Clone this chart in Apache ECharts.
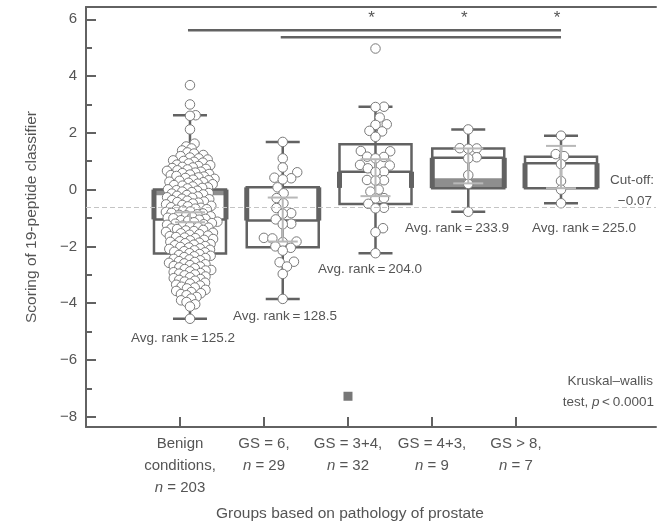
<!DOCTYPE html>
<html>
<head>
<meta charset="utf-8">
<script src="https://cdn.jsdelivr.net/npm/echarts@6/dist/echarts.min.js"></script>
<style>
html, body { margin: 0; padding: 0; background: #fff; }
#chart { width: 657px; height: 526px; }
</style>
</head>
<body>
<div id="chart"></div>
<script>
// groups on the x axis
var groupLabels = [
  'Benign\nconditions,\n{i|n} = 203',
  'GS = 6,\n{i|n} = 29',
  'GS = 3+4,\n{i|n} = 32',
  'GS = 4+3,\n{i|n} = 9',
  'GS > 8,\n{i|n} = 7'
];
var tickPos = [0, 1, 2, 3, 4];
var yTicks = [-8, -6, -4, -2, 0, 2, 4, 6];
var yMinorTicks = [-7, -5, -3, -1, 1, 3, 5];

// individual scores
var benign = [
  3.68, 3.0, 2.62, 2.6, 2.12,
  1.62, 1.52,
  1.45, 1.38, 1.31, 1.27,
  1.22, 1.18, 1.13, 1.1, 1.06, 1.03, 1.01,
  0.98, 0.95, 0.92, 0.88, 0.86, 0.83, 0.8, 0.78, 0.76,
  0.73, 0.71, 0.68, 0.66, 0.63, 0.6, 0.58, 0.55, 0.53, 0.51,
  0.48, 0.46, 0.43, 0.41, 0.38, 0.35, 0.33, 0.31, 0.28, 0.26,
  0.24, 0.21, 0.19, 0.16, 0.14, 0.11, 0.08, 0.06, 0.04, 0.01,
  -0.02, -0.04, -0.07, -0.09, -0.12, -0.14, -0.17, -0.19, -0.22, -0.24,
  -0.27, -0.29, -0.32, -0.34, -0.37, -0.39, -0.42, -0.44, -0.46, -0.49,
  -0.52, -0.54, -0.57, -0.59, -0.62, -0.64, -0.67, -0.69, -0.71, -0.74,
  -0.77, -0.79, -0.82, -0.84, -0.87, -0.89, -0.91, -0.94, -0.96, -0.99,
  -1.01, -1.03, -1.06, -1.08, -1.1, -1.13, -1.15, -1.18, -1.2, -1.22, -1.24,
  -1.27, -1.29, -1.32, -1.34, -1.37, -1.39, -1.42, -1.44, -1.46, -1.49,
  -1.52, -1.54, -1.57, -1.59, -1.62, -1.64, -1.67, -1.69, -1.71, -1.74,
  -1.77, -1.79, -1.82, -1.84, -1.87, -1.89, -1.92, -1.94, -1.96, -1.99,
  -2.02, -2.04, -2.07, -2.09, -2.12, -2.14, -2.17, -2.19, -2.21, -2.24,
  -2.27, -2.3, -2.33, -2.35, -2.38, -2.41, -2.44, -2.46, -2.49,
  -2.52, -2.55, -2.58, -2.6, -2.63, -2.66, -2.69, -2.71, -2.74,
  -2.77, -2.8, -2.83, -2.85, -2.88, -2.91, -2.94, -2.96, -2.99,
  -3.02, -3.06, -3.09, -3.12, -3.15, -3.18, -3.21, -3.24,
  -3.28, -3.31, -3.35, -3.38, -3.42, -3.45, -3.48,
  -3.53, -3.57, -3.61, -3.65, -3.68, -3.72,
  -3.78, -3.84, -3.9, -3.96,
  -4.04, -4.12,
  -4.55
];
var gs6 = [1.68, 1.1, 0.78, 0.61, 0.42, 0.4, 0.36, 0.08, -0.13, -0.3, -0.48, -0.65, -0.83, -0.85,
  -1.05, -1.2, -1.22, -1.7, -1.72, -1.83, -1.85, -2.0, -2.05, -2.15, -2.54, -2.56, -2.71, -2.97, -3.85];
var gs34 = [4.97, 2.92, 2.91, 2.54, 2.3, 2.28, 2.07, 2.05, 1.86, 1.36, 1.35, 1.16, 1.15, 1.1, 0.87, 0.85,
  0.75, 0.63, 0.62, 0.34, 0.33, 0.32, 0.0, -0.07, -0.31, -0.3, -0.5, -0.64, -0.66, -1.36, -1.5, -2.24];
var gs43 = [2.12, 1.46, 1.45, 1.44, 1.14, 1.1, 0.51, 0.2, -0.78];
var gs8 = [1.9, 1.25, 1.18, 0.9, 0.3, 0.0, -0.48];
var groupValues = [benign, gs6, gs34, gs43, gs8];

// box plot summaries
var whiskerHigh = [2.62, 1.68, 2.92, 2.12, 1.9];
var whiskerLow = [-4.55, -3.85, -2.24, -0.78, -0.48];
var boxTop = [0.0, 0.08, 1.6, 1.45, 1.16];
var boxMid = [-1.05, -1.09, 0.63, 1.12, 0.93];
var boxBottom = [-2.25, -2.03, -0.51, 0.05, 0.05];
var thickTop = [0.0, 0.08, 0.63, 1.12, 0.93];
var thickBottom = [-1.05, -1.09, 0.06, 0.05, 0.05];
var shadeTop = [0.0, null, null, 0.4, null];
var shadeBottom = [-0.2, null, null, 0.05, null];
var ciHigh = [-0.8, -0.28, 1.07, 1.45, 1.54];
var ciLow = [-1.15, -1.83, -0.23, 0.22, 0.05];

var outlierSquare = [[2, -7.28]];
var cutOff = -0.62;
var sigBars = [[0, 4, 5.61], [1, 4, 5.37]];
var sigStars = [2, 3, 4];
var avgRanks = ['125.2', '128.5', '204.0', '233.9', '225.0'];

var Y_MIN = -8.363, Y_MAX = 6.433;
var X_MIN = -1.121, X_MAX = 5.024;   // data axis (box centres)
var T_MIN = -1.119, T_MAX = 5.667;   // tick axis (labels)
var GRID = { left: 86, top: 7, width: 570, height: 420 };
var Y_PX = GRID.height / (Y_MAX - Y_MIN);
var X_PX = GRID.width / (X_MAX - X_MIN);

var dark = '#626262';
var light = '#b8b8b8';
var txt = '#555';
var FONT = 'Liberation Sans';

// simple beeswarm: horizontal offsets in px
function swarm(values, gap) {
  var placed = [];
  var order = values.map(function (v, i) { return i; })
    .sort(function (a, b) { return values[a] - values[b]; });
  var out = [];
  order.forEach(function (idx) {
    var y = values[idx] * Y_PX;
    var cands = [0];
    placed.forEach(function (p) {
      var dy = Math.abs(p.y - y);
      if (dy < gap) {
        var dx = Math.sqrt(gap * gap - dy * dy);
        cands.push(p.x + dx, p.x - dx);
      }
    });
    cands.sort(function (a, b) { return Math.abs(a) - Math.abs(b); });
    var best = 0;
    for (var c = 0; c < cands.length; c++) {
      var x = cands[c], ok = true;
      for (var j = 0; j < placed.length; j++) {
        var p = placed[j];
        if ((p.x - x) * (p.x - x) + (p.y - y) * (p.y - y) < gap * gap - 0.01) { ok = false; break; }
      }
      if (ok) { best = x; break; }
    }
    placed.push({ x: best, y: y });
    out[idx] = best;
  });
  return out;
}

var points = [];
groupValues.forEach(function (vals, g) {
  var offs = swarm(vals, g === 0 ? 5.7 : 8.5);
  vals.forEach(function (v, k) {
    points.push([g + offs[k] / X_PX, v]);
  });
});

function renderBox(params, api) {
  var i = params.dataIndex;
  var kids = [];
  function pt(dx, v) { var p = api.coord([i, v]); return [p[0] + dx, p[1]]; }
  function seg(x1, v1, x2, v2, w) {
    var a = pt(x1, v1), b = pt(x2, v2);
    kids.push({ type: 'line', shape: { x1: a[0], y1: a[1], x2: b[0], y2: b[1] },
      style: { stroke: dark, lineWidth: w } });
  }
  var hw = 36, cw = 17;
  if (shadeTop[i] != null) {
    var s1 = pt(-hw, shadeTop[i]), s2 = pt(hw, shadeBottom[i]);
    kids.push({ type: 'rect', shape: { x: s1[0], y: s1[1], width: s2[0] - s1[0], height: s2[1] - s1[1] },
      style: { fill: '#8e8e8e' } });
  }
  seg(0, whiskerLow[i], 0, whiskerHigh[i], 2.5);
  seg(-cw, whiskerLow[i], cw, whiskerLow[i], 2.5);
  seg(-cw, whiskerHigh[i], cw, whiskerHigh[i], 2.5);
  var b1 = pt(-hw, boxTop[i]), b2 = pt(hw, boxBottom[i]);
  kids.push({ type: 'rect', shape: { x: b1[0], y: b1[1], width: b2[0] - b1[0], height: b2[1] - b1[1] },
    style: { fill: 'none', stroke: dark, lineWidth: 2.5 } });
  seg(-hw, boxMid[i], hw, boxMid[i], 2.5);
  seg(-hw, thickTop[i], -hw, thickBottom[i], 5);
  seg(hw, thickTop[i], hw, thickBottom[i], 5);
  return { type: 'group', children: kids };
}

function renderCi(params, api) {
  var i = params.dataIndex;
  var kids = [];
  function seg(x1, v1, x2, v2) {
    var a = api.coord([i, v1]), b = api.coord([i, v2]);
    kids.push({ type: 'line', shape: { x1: a[0] + x1, y1: a[1], x2: b[0] + x2, y2: b[1] },
      style: { stroke: light, lineWidth: 2 } });
  }
  seg(0, ciLow[i], 0, ciHigh[i]);
  seg(-15, ciLow[i], 15, ciLow[i]);
  seg(-15, ciHigh[i], 15, ciHigh[i]);
  return { type: 'group', children: kids };
}

function renderSig(params, api) {
  var b = sigBars[params.dataIndex];
  var a = api.coord([b[0], b[2]]), c = api.coord([b[1], b[2]]);
  var kids = [{ type: 'line', shape: { x1: a[0] - 2, y1: a[1], x2: c[0], y2: c[1] },
    style: { stroke: dark, lineWidth: 2.5 } }];
  if (params.dataIndex === 0) {
    sigStars.forEach(function (g) {
      var p = api.coord([g, 6.02]);
      kids.push({ type: 'text', x: p[0] - 4, y: p[1],
        style: { text: '*', fill: txt, font: '17px "' + FONT + '"', align: 'center', verticalAlign: 'middle' } });
    });
  }
  return { type: 'group', children: kids };
}

var chart = echarts.init(document.getElementById('chart'));

var option = {
  backgroundColor: '#fff',
  animation: false,
  grid: { left: GRID.left, top: GRID.top, width: GRID.width, height: GRID.height, show: false },
  xAxis: [
    { type: 'value', min: X_MIN, max: X_MAX, show: false },
    { type: 'value', min: T_MIN, max: T_MAX, position: 'bottom',
      axisLine: { onZero: false, lineStyle: { color: dark, width: 2 } },
      axisTick: { inside: true, length: 10, customValues: tickPos, lineStyle: { color: dark, width: 2 } },
      axisLabel: { customValues: tickPos, color: txt, fontFamily: FONT, fontSize: 15, lineHeight: 22, margin: 6,
        formatter: function (v) { return groupLabels[Math.round(v)]; },
        rich: { i: { fontStyle: 'italic', color: txt, fontFamily: FONT, fontSize: 15, lineHeight: 22 } } },
      splitLine: { show: false } },
    // top frame line
    { type: 'value', min: T_MIN, max: T_MAX, position: 'top',
      axisLine: { show: true, onZero: false, lineStyle: { color: dark, width: 2 } },
      axisTick: { show: false }, axisLabel: { show: false }, splitLine: { show: false } }
  ],
  yAxis: [
    { type: 'value', min: Y_MIN, max: Y_MAX,
      name: 'Scoring of 19-peptide classifier', nameLocation: 'middle', nameGap: 46,
      nameTextStyle: { color: txt, fontFamily: FONT, fontSize: 15.5 },
      axisLine: { show: true, onZero: false, lineStyle: { color: dark, width: 2 } },
      axisTick: { show: true, inside: true, length: 10, customValues: yTicks, lineStyle: { color: dark, width: 2 } },
      axisLabel: { customValues: yTicks, color: txt, fontFamily: FONT, fontSize: 15, margin: 9,
        formatter: function (v) { return String(v).replace('-', '\u2212'); } },
      splitLine: { show: false } },
    { type: 'value', min: Y_MIN, max: Y_MAX, position: 'left',
      axisLine: { show: false, onZero: false },
      axisTick: { show: true, inside: true, length: 6, customValues: yMinorTicks, lineStyle: { color: dark, width: 2 } },
      axisLabel: { show: false },
      splitLine: { show: false } }
  ],
  graphic: [],
  series: [
    { type: 'custom', xAxisIndex: 0, yAxisIndex: 0, renderItem: renderBox, z: 2, silent: true,
      data: tickPos.map(function (i) { return [i, boxMid[i]]; }), encode: { x: 0, y: 1 },
      markLine: { silent: true, symbol: 'none', label: { show: false },
        lineStyle: { color: '#c4c4c4', type: [5, 3], width: 1 },
        data: [{ yAxis: cutOff }] } },
    { type: 'scatter', xAxisIndex: 0, yAxisIndex: 0, data: points, z: 3, silent: true,
      symbol: 'circle', symbolSize: 9.5,
      itemStyle: { color: '#fff', borderColor: '#7a7a7a', borderWidth: 1, opacity: 1 } },
    { type: 'custom', xAxisIndex: 0, yAxisIndex: 0, renderItem: renderCi, z: 4, silent: true,
      data: tickPos.map(function (i) { return [i, ciLow[i]]; }), encode: { x: 0, y: 1 } },
    { type: 'custom', xAxisIndex: 0, yAxisIndex: 0, renderItem: renderSig, z: 4, silent: true,
      data: sigBars.map(function (b) { return [b[0], b[2]]; }), encode: { x: 0, y: 1 } },
    { type: 'scatter', xAxisIndex: 1, yAxisIndex: 0, data: outlierSquare, z: 3, silent: true,
      symbol: 'rect', symbolSize: 9, itemStyle: { color: '#555' } }
  ]
};

// annotations (pixel anchored)
var annStyle = { fill: txt, font: '13.5px "' + FONT + '"', align: 'center', verticalAlign: 'middle' };
var rankPos = [[183, 338], [285, 316], [370, 269], [457, 228], [584, 228]];
avgRanks.forEach(function (r, i) {
  option.graphic.push({ type: 'text', x: rankPos[i][0], y: rankPos[i][1],
    style: Object.assign({}, annStyle, { text: 'Avg. rank\u2009=\u2009' + r }) });
});
option.graphic.push(
  { type: 'text', x: 654, y: 180, style: Object.assign({}, annStyle, { text: 'Cut-off:', align: 'right' }) },
  { type: 'text', x: 652, y: 201, style: Object.assign({}, annStyle, { text: '\u22120.07', align: 'right' }) },
  { type: 'text', x: 653, y: 381, style: Object.assign({}, annStyle, { text: 'Kruskal\u2013wallis', align: 'right' }) },
  { type: 'text', x: 654, y: 402, style: Object.assign({}, annStyle, {
      text: 'test, {i|p}\u2009<\u20090.0001', align: 'right',
      rich: { i: { fontStyle: 'italic', fill: txt, fontSize: 13.5, fontFamily: FONT } } }) },
  { type: 'text', x: 350, y: 514, style: { text: 'Groups based on pathology of prostate', fill: txt,
      font: '15.5px "' + FONT + '"', align: 'center', verticalAlign: 'middle' } }
);

chart.setOption(option);
</script>
</body>
</html>
